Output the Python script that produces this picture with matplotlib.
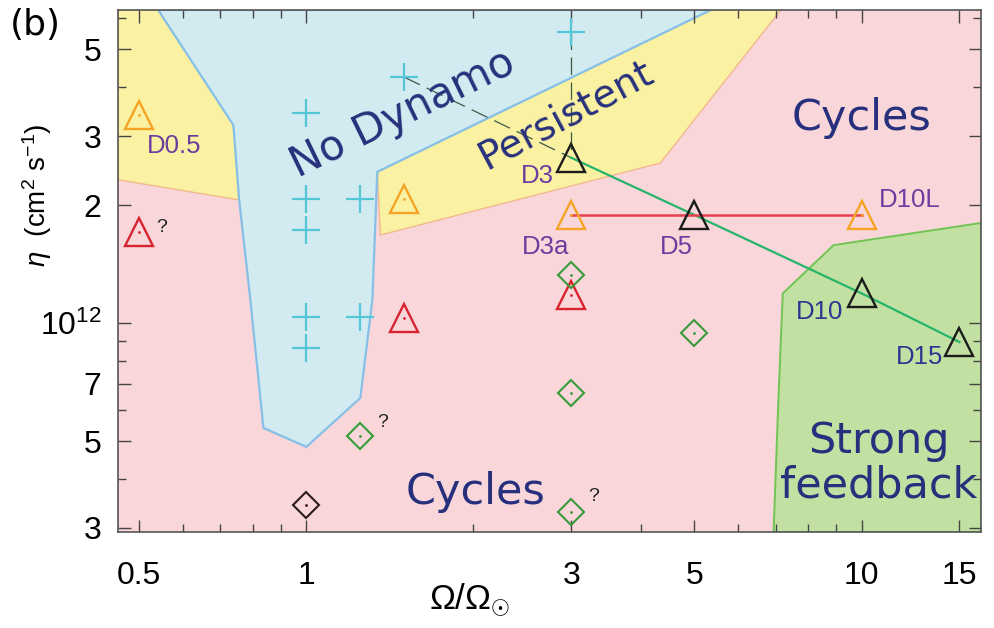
import matplotlib
matplotlib.use("Agg")
import matplotlib.pyplot as plt
from matplotlib.patches import Polygon
from matplotlib.ticker import FixedLocator, FixedFormatter, NullFormatter

plt.rcParams["font.family"] = ["Liberation Sans", "DejaVu Sans"]
plt.rcParams["mathtext.fontset"] = "custom"
plt.rcParams["mathtext.rm"] = "Liberation Sans"
plt.rcParams["mathtext.it"] = "Liberation Sans:italic"

# ---- axis ranges -------------------------------------------------------
omega_lim = (0.458, 16.4)
eta_lim = (2.93e11, 6.29e12)

# ---- regime boundaries (Omega/Omega_sun, eta in cm^2/s) ----------------
no_dynamo_omega = [0.541, 0.739, 0.757, 0.793, 0.837, 1.0, 1.251, 1.315, 1.342, 5.35]
no_dynamo_eta = [6.29e12, 3.20e12, 2.06e12, 1.145e12, 5.40e11, 4.83e11, 6.44e11,
                 1.145e12, 2.43e12, 6.29e12]

persist_left_omega = [0.458, 0.541, 0.739, 0.757, 0.458]
persist_left_eta = [6.29e12, 6.29e12, 3.20e12, 2.06e12, 2.32e12]

persist_band_omega = [1.342, 5.35, 7.15, 4.34, 1.36]
persist_band_eta = [2.43e12, 6.29e12, 6.29e12, 2.56e12, 1.677e12]

strong_omega = [16.4, 8.90, 7.21, 7.08, 6.94, 16.4]
strong_eta = [1.80e12, 1.58e12, 1.19e12, 6.36e11, 2.93e11, 2.93e11]

# ---- simulation runs ---------------------------------------------------
no_dyn_runs_omega = [1, 1, 1, 1, 1, 1.25, 1.25, 1.5, 3]
no_dyn_runs_eta = [3.43e12, 2.07e12, 1.73e12, 1.035e12, 8.64e11, 2.07e12, 1.035e12,
                   4.24e12, 5.53e12]

persist_runs_omega = [0.5, 1.5, 3, 10]
persist_runs_eta = [3.39e12, 2.07e12, 1.886e12, 1.886e12]

uncertain_runs_omega = [0.5, 1.5, 3]
uncertain_runs_eta = [1.71e12, 1.03e12, 1.179e12]

named_runs_omega = [3, 5, 10, 15]
named_runs_eta = [2.64e12, 1.886e12, 1.19e12, 8.94e11]

cycle_runs_omega = [1.25, 3, 3, 3, 5]
cycle_runs_eta = [5.15e11, 1.326e12, 6.63e11, 3.30e11, 9.43e11]

ref_run_omega = [1]
ref_run_eta = [3.43e11]

# connecting tracks
dashed_from_omega = [1.5, 3]
dashed_from_eta = [4.24e12, 5.53e12]

# run labels: (text, omega, eta, ha, colour)
purple = "#6b3d9e"
navy_lbl = "#2b3590"
run_labels = [
    ("D0.5", 0.517, 2.83e12, "left", purple),
    ("D3", 2.786, 2.37e12, "right", purple),
    ("D3a", 2.70, 1.563e12, "center", purple),
    ("D5", 4.64, 1.563e12, "center", purple),
    ("D10L", 10.73, 2.06e12, "left", purple),
    ("D10", 9.28, 1.067e12, "right", navy_lbl),
    ("D15", 14.0, 8.19e11, "right", navy_lbl),
]
question_omega = [0.55, 1.371, 3.29]
question_eta = [1.75e12, 5.56e11, 3.6e11]

# tick values
x_major = [0.5, 1, 3, 5, 10, 15]
x_major_labels = ["0.5", "1", "3", "5", "10", "15"]
x_minor = [0.6, 0.7, 0.8, 0.9, 2, 4, 6, 7, 8, 9]
y_major = [3e11, 5e11, 7e11, 1e12, 2e12, 3e12, 5e12]
y_major_labels = ["3", "5", "7", r"$10^{12}$", "2", "3", "5"]
y_minor = [4e11, 6e11, 8e11, 9e11, 4e12, 6e12]

# ---- colours -----------------------------------------------------------
pink = "#f9d6da"
yellow = "#faf1a2"
blue = "#d2ebf0"
green = "#c2e0a1"
region_text = "#27307c"

fig = plt.figure(figsize=(9.94, 6.28), dpi=100)
ax = fig.add_axes([0.1187, 0.1529, 0.8682, 0.8312])
ax.set_xscale("log")
ax.set_yscale("log")
ax.set_xlim(*omega_lim)
ax.set_ylim(*eta_lim)
ax.set_facecolor(pink)

def region(omegas, etas, face, edge, lw):
    poly = Polygon(list(zip(omegas, etas)), closed=True, facecolor=face,
                   edgecolor=edge, linewidth=lw, zorder=1)
    ax.add_patch(poly)

region(persist_left_omega, persist_left_eta, yellow, "#f2b98f", 1.0)
region(persist_band_omega, persist_band_eta, yellow, "#f2b98f", 1.0)
region(no_dynamo_omega, no_dynamo_eta, blue, "#86c0e6", 1.6)
region(strong_omega, strong_eta, green, "#72c455", 1.4)

# tracks
for om, et in zip(dashed_from_omega, dashed_from_eta):
    ax.plot([om, named_runs_omega[0]], [et, named_runs_eta[0]], color="#3d5a45",
            lw=0.9, dashes=(14, 6), zorder=2)
ax.plot(named_runs_omega, named_runs_eta, color="#27b46a", lw=1.6, zorder=2)
ax.plot([persist_runs_omega[2], persist_runs_omega[3]],
        [persist_runs_eta[2], persist_runs_eta[3]], color="#e8404e", lw=1.8, zorder=2)

# markers
ax.plot(no_dyn_runs_omega, no_dyn_runs_eta, "+", color="#55c6d6", ms=20, mew=1.6,
        zorder=3)
tri = dict(marker="^", ls="none", ms=20, mfc="none", mew=1.7, zorder=3)
ax.plot(persist_runs_omega, persist_runs_eta, mec="#f5a425", **tri)
ax.plot(uncertain_runs_omega, uncertain_runs_eta, mec="#d8232f", **tri)
ax.plot(named_runs_omega, named_runs_eta, mec="#1b1b1b", **tri)
dia = dict(marker="D", ls="none", ms=13.5, mfc="none", mew=1.5, zorder=3)
ax.plot(cycle_runs_omega, cycle_runs_eta, mec="#3a9a3a", **dia)
ax.plot(ref_run_omega, ref_run_eta, mec="#2a1a1a", **dia)
# centre dots
for oms, ets, c in [(persist_runs_omega, persist_runs_eta, "#f5a425"),
                    (uncertain_runs_omega, uncertain_runs_eta, "#d8232f"),
                    (cycle_runs_omega, cycle_runs_eta, "#3a9a3a"),
                    (ref_run_omega, ref_run_eta, "#2a1a1a")]:
    ax.plot(oms, ets, ".", color=c, ms=2, zorder=3)

# run labels
for txt, om, et, ha, c in run_labels:
    ax.text(om, et, txt, ha=ha, va="center", fontsize=18.5, color=c, zorder=4)
for om, et in zip(question_omega, question_eta):
    ax.text(om, et, "?", ha="center", va="center", fontsize=14, color="#222222",
            zorder=4)

# regime labels
rk = dict(family="DejaVu Sans", color=region_text, ha="center", va="center",
          zorder=4, rotation_mode="anchor")
ax.text(1.49, 3.42e12, "No Dynamo", fontsize=30, rotation=26, **rk)
ax.text(2.93, 3.39e12, "Persistent", fontsize=28, rotation=28, **rk)
ax.text(10.0, 3.33e12, "Cycles", fontsize=31, **rk)
ax.text(2.016, 3.71e11, "Cycles", fontsize=31, **rk)
ax.text(10.75, 4.39e11, "Strong\nfeedback", fontsize=31, linespacing=1.1, **rk)

# axes, ticks
ax.xaxis.set_major_locator(FixedLocator(x_major))
ax.xaxis.set_major_formatter(FixedFormatter(x_major_labels))
ax.xaxis.set_minor_locator(FixedLocator(x_minor))
ax.xaxis.set_minor_formatter(NullFormatter())
ax.yaxis.set_major_locator(FixedLocator(y_major))
ax.yaxis.set_major_formatter(FixedFormatter(y_major_labels))
ax.yaxis.set_minor_locator(FixedLocator(y_minor))
ax.yaxis.set_minor_formatter(NullFormatter())
ax.tick_params(which="both", direction="in", top=True, right=True,
               color="#444444", width=1.0)
ax.tick_params(which="major", length=9, labelsize=23)
ax.tick_params(axis="x", which="major", pad=21)
ax.tick_params(axis="y", which="major", pad=12)
ax.tick_params(which="minor", length=6)
for sp in ax.spines.values():
    sp.set_color("#555555")
    sp.set_linewidth(1.2)
    sp.set_zorder(5)

ax.set_xlabel(r"$\Omega/\Omega_{\odot}$", fontsize=25)
ax.xaxis.set_label_coords(0.408, -0.13)
ax.xaxis.label.set_va("center")
ax.set_ylabel(r"$\eta$  (cm$^2$ s$^{-1}$)", fontsize=20)
ax.yaxis.set_label_coords(-0.094, 0.645)
ax.yaxis.label.set_va("center")

fig.text(0.01, 0.96, "(b)", family="DejaVu Sans", fontsize=26, ha="left",
         va="center")

fig.savefig("out.png", dpi=100)
